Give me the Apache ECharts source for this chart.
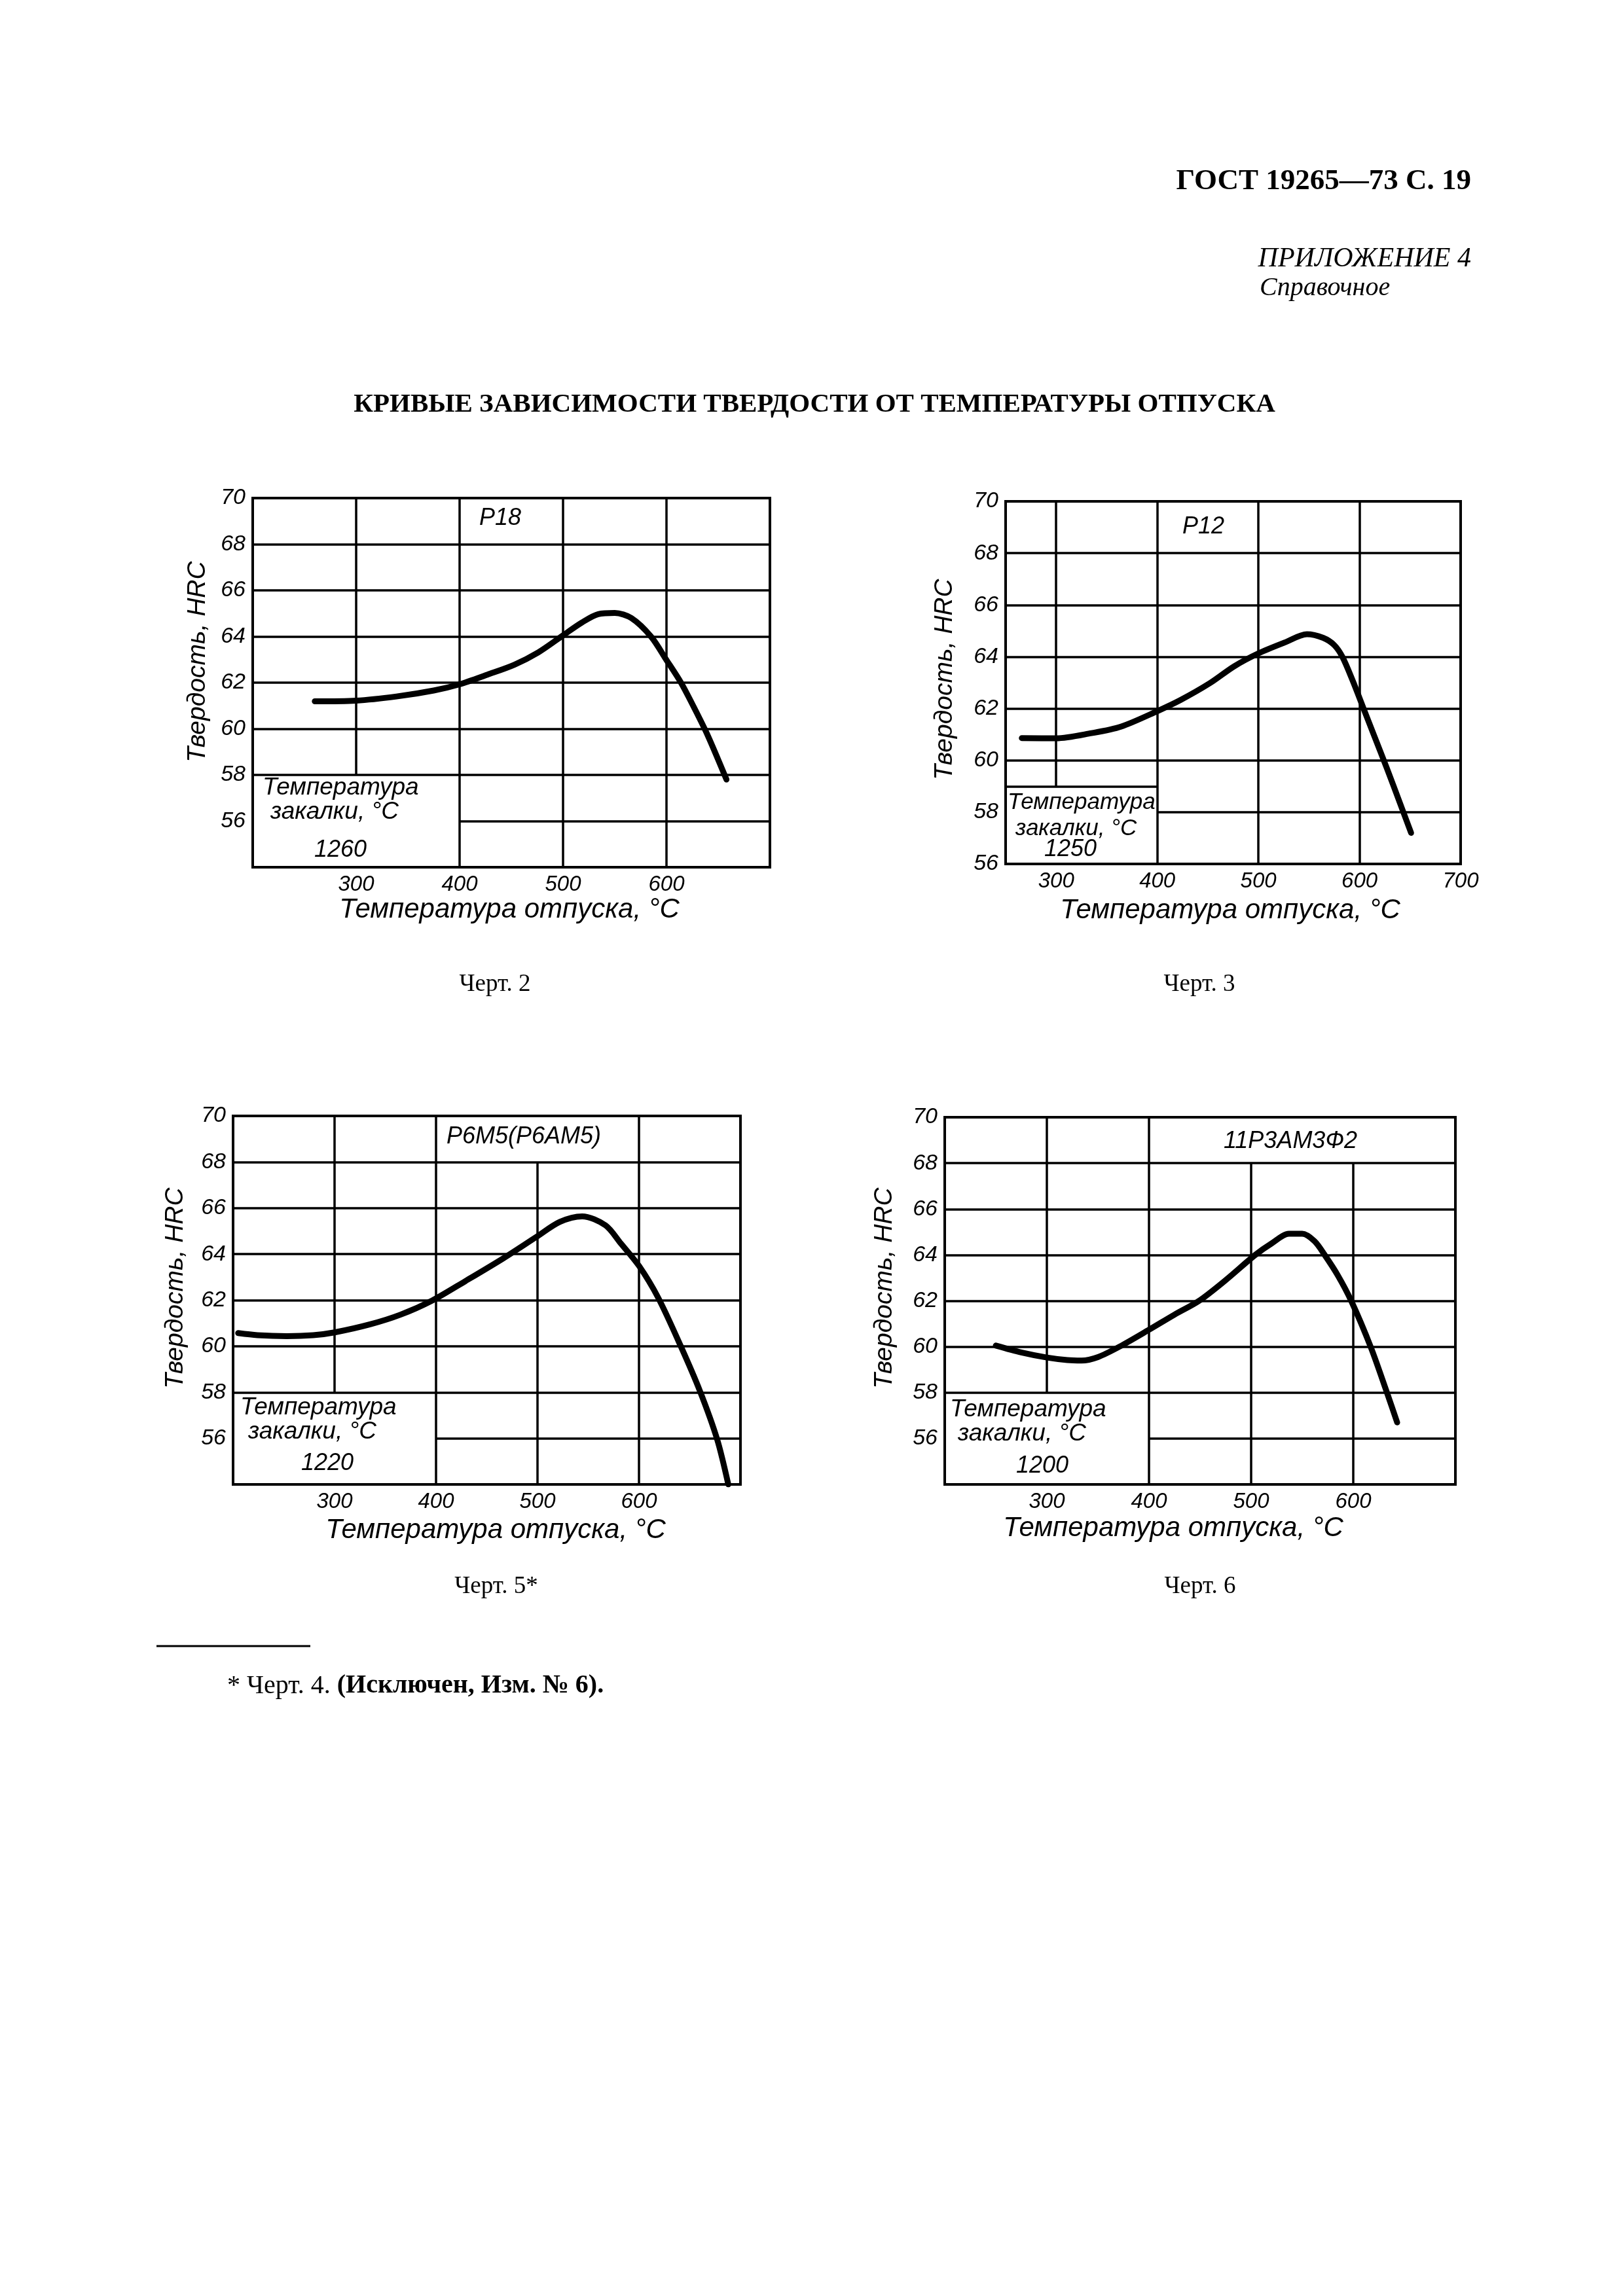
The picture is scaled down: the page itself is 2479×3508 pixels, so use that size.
<!DOCTYPE html>
<html>
<head>
<meta charset="utf-8">
<script src="https://cdn.jsdelivr.net/npm/echarts@6/dist/echarts.min.js"></script>
<style>
html,body{margin:0;padding:0;background:#fff;}
#c{width:2479px;height:3508px;}
</style>
</head>
<body>
<div id="c"></div>
<script>
// ---------- DATA ----------
// Черт. 2 — Р18, закалка 1260 °С
const tempP18 = [260, 300, 339, 375, 400, 427, 453, 476, 500, 518, 534, 550, 566, 585, 600, 614, 627, 640, 658];
const hrcP18  = [61.19, 61.22, 61.4, 61.66, 61.93, 62.35, 62.78, 63.31, 64.05, 64.6, 64.97, 65.02, 64.8, 64.0, 62.98, 62.0, 60.89, 59.7, 57.8];

// Черт. 3 — Р12, закалка 1250 °С
const tempP12 = [266, 300, 335, 364, 400, 423, 452, 476, 500, 526, 548, 564, 575, 583, 593, 604, 615, 627, 640, 651];
const hrcP12  = [60.86, 60.85, 61.05, 61.3, 61.9, 62.33, 62.98, 63.63, 64.13, 64.55, 64.87, 64.73, 64.45, 64.0, 63.1, 62.0, 60.9, 59.7, 58.35, 57.2];

// Черт. 5 — Р6М5 (Р6АМ5), закалка 1220 °С
const tempP6M5 = [205, 224, 253, 279, 300, 335, 365, 396, 429, 466, 499, 522, 544, 567, 582, 600, 619, 641, 660, 677, 688];
const hrcP6M5  = [60.57, 60.48, 60.44, 60.48, 60.6, 60.95, 61.37, 61.98, 62.83, 63.81, 64.75, 65.4, 65.64, 65.25, 64.47, 63.49, 62.1, 60.02, 58.06, 55.96, 54.0];

// Черт. 6 — 11Р3АМ3Ф2, закалка 1200 °С
const temp11P3 = [250, 275, 300, 320, 334, 350, 371, 400, 425, 449, 475, 504, 520, 537, 550, 562, 572, 585, 598, 617, 633, 643];
const hrc11P3  = [60.05, 59.75, 59.53, 59.42, 59.4, 59.55, 60.0, 60.74, 61.4, 62.0, 62.9, 64.0, 64.5, 64.92, 64.92, 64.6, 64.0, 63.1, 62.0, 60.0, 58.0, 56.7];

// tick labels
const xTickLabels4 = [300, 400, 500, 600];
const xTickLabels5 = [300, 400, 500, 600, 700];
const yTickLabels  = [56, 58, 60, 62, 64, 66, 68, 70];

// names
const steelNames = ['Р18', 'Р12', 'Р6М5(Р6АМ5)', '11Р3АМ3Ф2'];
const quenchTemps = ['1260', '1250', '1220', '1200'];
const figCaptions = ['Черт. 2', 'Черт. 3', 'Черт. 5*', 'Черт. 6'];
const yName = 'Твердость, HRC';
const xName = 'Температура отпуска, °С';

// ---------- LAYOUT ----------
const panels = [
  { grid:{left:386, top:761, width:790, height:564}, xMin:200, xMax:700, yMin:54, yMax:70,
    xLab:xTickLabels4, xGrid:[300,400,500,600], yGrid:[56,58,60,62,64,66,68], box:[400,58], cut:null,
    temps:tempP18, hrc:hrcP18,
    steelPos:[764,792], boxText:{x:401, y1:1204, y2:1241, nx:520, ny:1299},
    yNamePos:[302,1011], xNamePos:[778,1390], capPos:[756,1504] },
  { grid:{left:1536, top:766, width:695, height:554}, xMin:250, xMax:700, yMin:56, yMax:70,
    xLab:xTickLabels5, xGrid:[300,400,500,600], yGrid:[58,60,62,64,66,68], box:[400,59], cut:null,
    temps:tempP12, hrc:hrcP12,
    steelPos:[1838,805], boxText:{x:1539, y1:1226, y2:1266, nx:1635, ny:1298},
    yNamePos:[1443,1038], xNamePos:[1879,1391], capPos:[1832,1504] },
  { grid:{left:356, top:1705, width:775, height:563}, xMin:200, xMax:700, yMin:54, yMax:70,
    xLab:xTickLabels4, xGrid:[300,400,500,600], yGrid:[56,58,60,62,64,66,68], box:[400,58], cut:[400,600,68],
    temps:tempP6M5, hrc:hrcP6M5,
    steelPos:[800,1737], boxText:{x:367, y1:2151, y2:2188, nx:500, ny:2236},
    yNamePos:[268,1968], xNamePos:[757,2338], capPos:[758,2424] },
  { grid:{left:1443, top:1707, width:780, height:561}, xMin:200, xMax:700, yMin:54, yMax:70,
    xLab:xTickLabels4, xGrid:[300,400,500,600], yGrid:[56,58,60,62,64,66,68], box:[400,58], cut:[400,700,68],
    temps:temp11P3, hrc:hrc11P3,
    steelPos:[1971,1744], boxText:{x:1451, y1:2154, y2:2191, nx:1592, ny:2240},
    yNamePos:[1351,1968], xNamePos:[1792,2335], capPos:[1833,2424] }
];

const SANS = "'Liberation Sans', 'DejaVu Sans', sans-serif";
const SERIF = "'Liberation Serif', 'DejaVu Serif', serif";

function gridSegments(p) {
  const segs = [];
  const bx = p.box[0], by = p.box[1];
  p.xGrid.forEach(x => {
    let ya = p.yMin, yb = p.yMax;
    if (x < bx) ya = by;
    if (p.cut && x > p.cut[0] && x < p.cut[1]) yb = p.cut[2];
    segs.push([[x, ya], [x, yb]]);
  });
  p.yGrid.forEach(y => {
    let xa = p.xMin;
    if (y < by) xa = bx;
    segs.push([[xa, y], [p.xMax, y]]);
  });
  if (p.yGrid.indexOf(by) < 0) segs.push([[p.xMin, by], [bx, by]]);
  return segs;
}

const grids = [], xAxes = [], yAxes = [], series = [], graphics = [];

function txt(text, x, y, size, opts) {
  opts = opts || {};
  graphics.push({
    type:'text', x:x, y:y, rotation: opts.rot || 0, silent:true,
    style:{
      text:text, fill:'#000',
      font: (opts.style || 'italic') + ' ' + (opts.weight || 'normal') + ' ' + size + 'px ' + (opts.family || SANS),
      align: opts.align || 'center', verticalAlign: opts.valign || 'middle'
    }
  });
}

panels.forEach((p, i) => {
  grids.push(Object.assign({show:true, borderColor:'#000', borderWidth:4, backgroundColor:'transparent'}, p.grid));
  xAxes.push({
    gridIndex:i, type:'value', min:p.xMin, max:p.xMax,
    axisLine:{show:false}, axisTick:{show:false}, splitLine:{show:false},
    axisLabel:{customValues:p.xLab, color:'#000', fontSize:33, fontStyle:'italic', fontFamily:SANS, margin:10}
  });
  yAxes.push({
    gridIndex:i, type:'value', min:p.yMin, max:p.yMax,
    axisLine:{show:false}, axisTick:{show:false}, splitLine:{show:false},
    axisLabel:{customValues:yTickLabels, color:'#000', fontSize:34, fontStyle:'italic', fontFamily:SANS, margin:11}
  });
  series.push({
    type:'line', xAxisIndex:i, yAxisIndex:i,
    data:p.temps.map((t, k) => [t, p.hrc[k]]),
    smooth:0.3, showSymbol:false, silent:true, animation:false,
    lineStyle:{color:'#000', width:9, cap:'round', join:'round'},
    markLine:{
      silent:true, animation:false, symbol:['none','none'],
      label:{show:false}, emphasis:{disabled:true},
      lineStyle:{color:'#000', width:3.5, type:'solid'},
      data:gridSegments(p).map(s => [{coord:s[0]}, {coord:s[1]}])
    }
  });
  // texts
  txt(steelNames[i], p.steelPos[0], p.steelPos[1], 36);
  txt('Температура', p.boxText.x, p.boxText.y1, i === 1 ? 35 : 37, {align:'left'});
  txt('закалки, °С', p.boxText.x + 12, p.boxText.y2, i === 1 ? 35 : 37, {align:'left'});
  txt(quenchTemps[i], p.boxText.nx, p.boxText.ny, 36);
  txt(yName, p.yNamePos[0], p.yNamePos[1], 39, {rot:Math.PI/2});
  txt(xName, p.xNamePos[0], p.xNamePos[1], 42);
  txt(figCaptions[i], p.capPos[0], p.capPos[1], 37, {style:'normal', family:SERIF});
});

// page texts
txt('ГОСТ 19265—73 С. 19', 2247, 277, 45, {style:'normal', weight:'bold', family:SERIF, align:'right'});
txt('ПРИЛОЖЕНИЕ 4', 2247, 396, 42, {family:SERIF, align:'right'});
txt('Справочное', 1924, 440, 40, {family:SERIF, align:'left'});
txt('КРИВЫЕ ЗАВИСИМОСТИ ТВЕРДОСТИ ОТ ТЕМПЕРАТУРЫ ОТПУСКА', 1244, 618, 41, {style:'normal', weight:'bold', family:SERIF});

// footnote
graphics.push({type:'line', silent:true, shape:{x1:239, y1:2515, x2:474, y2:2515}, style:{stroke:'#000', lineWidth:3}});
graphics.push({
  type:'text', x:347, y:2576, silent:true,
  style:{
    text:'{r|* Черт. 4. }{b|(Исключен, Изм. № 6).}',
    verticalAlign:'middle', align:'left',
    rich:{
      r:{font:'normal 40px ' + SERIF, fill:'#000'},
      b:{font:'bold 40px ' + SERIF, fill:'#000'}
    }
  }
});

const chart = echarts.init(document.getElementById('c'), null, {renderer:'canvas', width:2479, height:3508});
chart.setOption({
  backgroundColor:'#fff',
  animation:false,
  grid:grids, xAxis:xAxes, yAxis:yAxes, series:series, graphic:graphics
});
</script>
</body>
</html>
